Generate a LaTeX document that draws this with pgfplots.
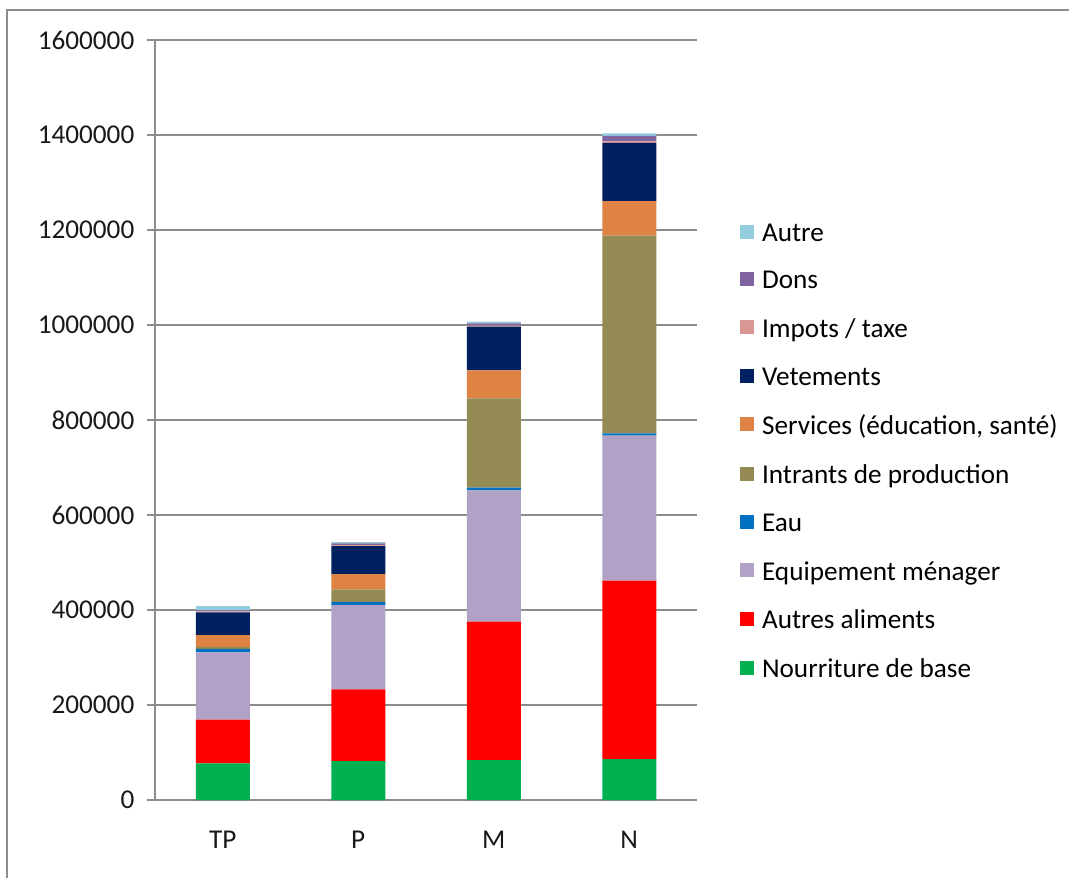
\documentclass[border=0pt]{standalone}
\usepackage{pgfplots}
\pgfplotsset{compat=1.18}
\usepackage{fontspec}
\setmainfont{Carlito}
\definecolor{cBase}{HTML}{00B050}
\definecolor{cAlim}{HTML}{FF0000}
\definecolor{cEquip}{HTML}{B2A1C7}
\definecolor{cEau}{HTML}{0070C0}
\definecolor{cIntr}{HTML}{948A54}
\definecolor{cServ}{HTML}{DE8344}
\definecolor{cVet}{HTML}{002060}
\definecolor{cImp}{HTML}{D99694}
\definecolor{cDons}{HTML}{8064A2}
\definecolor{cAutre}{HTML}{93CDDD}
\definecolor{axgray}{HTML}{8C8C8C}
\pgfplotstableread{
x base alim equip eau intr serv vet imp dons autre
0 77000 92000 142000 7000 4000 25000 48000 2000 2000 9000
1 82000 151000 177500 6300 26700 32200 59000 2100 3500 2800
2 84200 291200 276500 5600 188000 59000 91900 2300 4800 3400
3 86300 375400 305200 4900 416100 73000 122700 2900 11900 5000
}\data
\begin{document}
\begin{tikzpicture}
\useasboundingbox (0pt,0pt) rectangle (801.75pt,658.5pt);
\draw[axgray, line width=1.5pt] (5.25pt,0pt) -- (5.25pt,651pt) -- (801.75pt,651pt);
\begin{axis}[
  at={(116.25pt,58.5pt)}, anchor=south west,
  scale only axis, width=406.5pt, height=570pt,
  ybar stacked, bar width=40.5pt,
  xmin=-0.5, xmax=3.5, ymin=0, ymax=1600000,
  xtick={0,1,2,3}, xticklabels={TP,P,M,N},
  minor xtick={-0.5,0.5,1.5,2.5,3.5},
  ytick={0,200000,...,1600000},
  scaled y ticks=false,
  yticklabel style={/pgf/number format/fixed, /pgf/number format/1000 sep={}, /pgf/number format/assume math mode=true},
  axis x line*=bottom, axis y line*=left,
  axis line style={axgray, line width=0.9pt},
  tick align=outside,
  major tick length=6pt, minor tick length=6pt,
  xtick style={draw=none},
  minor x tick style={axgray, line width=0.9pt},
  ytick style={axgray, line width=0.9pt},
  ymajorgrids, grid style={axgray, line width=0.9pt},
  tick label style={font=\fontsize{20.4}{24}\selectfont, text=black!90},
  xticklabel style={yshift=-14pt},
  yticklabel style={xshift=-6pt},
  legend cell align=left,
  reverse legend,
  legend style={at={(1.079,0.762)}, anchor=north west, draw=none, fill=none,
    inner sep=0pt, font=\fontsize{20.4}{24}\selectfont, row sep=17pt,
    /tikz/every odd column/.append style={column sep=4pt}},
  legend image code/.code={\fill[#1] (0pt,-4pt) rectangle (10.5pt,6.5pt);},
  every axis plot/.append style={draw=none},
]
\addplot[fill=cBase] table[x=x,y=base]{\data}; \addlegendentry{Nourriture de base}
\addplot[fill=cAlim] table[x=x,y=alim]{\data}; \addlegendentry{Autres aliments}
\addplot[fill=cEquip] table[x=x,y=equip]{\data}; \addlegendentry{Equipement ménager}
\addplot[fill=cEau] table[x=x,y=eau]{\data}; \addlegendentry{Eau}
\addplot[fill=cIntr] table[x=x,y=intr]{\data}; \addlegendentry{Intrants de production}
\addplot[fill=cServ] table[x=x,y=serv]{\data}; \addlegendentry{Services (éducation, santé)}
\addplot[fill=cVet] table[x=x,y=vet]{\data}; \addlegendentry{Vetements}
\addplot[fill=cImp] table[x=x,y=imp]{\data}; \addlegendentry{Impots / taxe}
\addplot[fill=cDons] table[x=x,y=dons]{\data}; \addlegendentry{Dons}
\addplot[fill=cAutre] table[x=x,y=autre]{\data}; \addlegendentry{Autre}
\end{axis}
\end{tikzpicture}
\end{document}
